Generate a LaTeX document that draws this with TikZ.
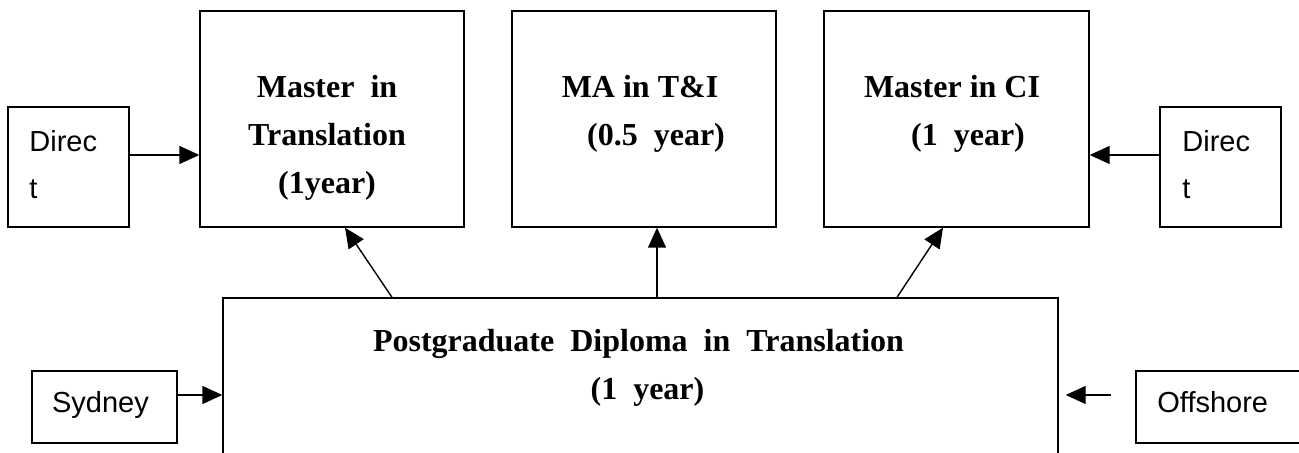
\documentclass[tikz,border=0pt]{standalone}
\usepackage{fontspec}
\setmainfont{Liberation Serif}
\setsansfont{Liberation Sans}
\usetikzlibrary{arrows.meta,positioning}

\begin{document}
\begin{tikzpicture}[x=0.5pt,y=-0.5pt,
  box/.style={draw, line width=0.7pt, inner sep=0pt},
  title/.style={font=\bfseries\fontsize{16}{24}\selectfont, align=center, inner sep=0pt},
  place/.style={font=\sffamily\fontsize{14.5}{23.5}\selectfont, align=left, inner sep=0pt},
  link/.style={line width=0.7pt, -{Triangle[length=10pt,width=9pt]}}]
\useasboundingbox (0,0) rectangle (1299,453);
\clip (0,0) rectangle (1299,453);

% boxes
\node[box, minimum width=60.5pt, minimum height=60pt] (dirL) at (68.5,167) {};
\node[box, minimum width=132pt, minimum height=108pt] (mt) at (332,119) {};
\node[box, minimum width=132pt, minimum height=108pt] (ma) at (644,119) {};
\node[box, minimum width=132.5pt, minimum height=108pt] (ci) at (956.5,119) {};
\node[box, minimum width=60.5pt, minimum height=60pt] (dirR) at (1220.5,167) {};
\node[box, minimum width=417.5pt, minimum height=100pt] (pg) at (640.5,398) {};
\node[box, minimum width=72.5pt, minimum height=36pt] (syd) at (104.5,407) {};
\node[box, minimum width=90pt, minimum height=36pt] (off) at (1226,407) {};

% texts (base = last line)
\node[title, anchor=base] (mtT) at (327,194) {Master~~in\\Translation\\(1year)};
\node[title, anchor=base] (maT) at (640,146) {MA in T\&I\\\hspace*{16pt}(0.5~~year)};
\node[title, anchor=base] (ciT) at (952,146) {Master in CI\\\hspace*{16pt}(1~~year)};
\node[title, anchor=base] (pgT) at (638.5,400) {Postgraduate~~Diploma~~in~~Translation\\\hspace*{9pt}(1~~year)};

\node[place, anchor=base west] (dirLT) at (29,199) {Direc\\t};
\node[place, anchor=base west] (dirRT) at (1182,199) {Direc\\t};
\node[place, anchor=base] (sydT) at (100.5,413) {Sydney};
\node[place, anchor=base west] (offT) at (1157,413) {Offshore};

% arrows
\draw[link] ([yshift=6pt]dirL.east) -- ([yshift=6pt]dirL.east -| mt.west);
\draw[link] ([yshift=6pt]dirR.west) -- ([yshift=6pt]dirR.west -| ci.east);
\draw[link] ([yshift=6pt]syd.east) -- ([yshift=6pt]syd.east -| pg.west);
\coordinate (offTail) at ([xshift=-12pt,yshift=6pt]off.west);
\coordinate (offTip) at ([xshift=3.5pt]offTail -| pg.east);
\draw[link] (offTail) -- (offTip);

\draw[link] ([xshift=-124.25pt]pg.north) -- ([xshift=6.5pt]mt.south);
\draw[link] ([xshift=8.25pt]pg.north) -- ([xshift=6.5pt]ma.south);
\draw[link] ([xshift=128.25pt]pg.north) -- ([xshift=-6.75pt]ci.south);
\end{tikzpicture}
\end{document}
